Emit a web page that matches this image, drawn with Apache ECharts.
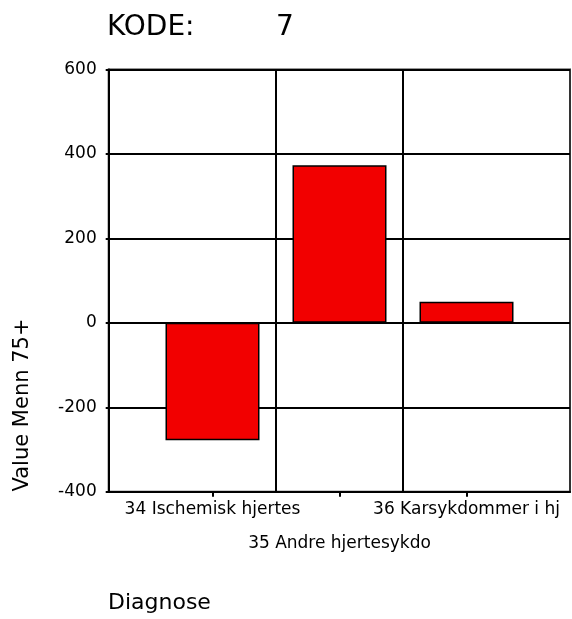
<!DOCTYPE html>
<html>
<head>
<meta charset="utf-8">
<script src="https://cdn.jsdelivr.net/npm/echarts@6/dist/echarts.min.js"></script>
<style>
html,body{margin:0;padding:0;background:#fff;}
#chart{width:572px;height:619px;}
</style>
</head>
<body>
<div id="chart"></div>
<script>
// ---- data ----
var categories = ['34 Ischemisk hjertes', '35 Andre hjertesykdo', '36 Karsykdommer i hj'];
var values = [-278, 373, 50];
var yTicks = [-400, -200, 0, 200, 400, 600];
var titleLabel = 'KODE:';
var titleValue = '7';
var yAxisName = 'Value Menn 75+';
var xAxisName = 'Diagnose';

var FONT = 'DejaVu Sans';
var chart = echarts.init(document.getElementById('chart'), null, {renderer: 'canvas'});

var yMin = yTicks[0], yMax = yTicks[yTicks.length - 1], yStep = yTicks[1] - yTicks[0];

var option = {
  animation: false,
  backgroundColor: '#fff',
  grid: [
    {left: 108.7, right: 2, top: 69.5, bottom: 127.3, show: true, borderColor: '#333', borderWidth: 2, backgroundColor: 'transparent', containLabel: false},
    {left: 149, right: 42, top: 69.5, bottom: 127.3, containLabel: false}
  ],
  xAxis: [
    {gridIndex: 0, type: 'value', min: 0, max: 1,
     axisLine: {show: true, onZero: false, lineStyle: {color: '#000', width: 2}},
     axisTick: {show: false}, axisLabel: {show: false}, splitLine: {show: false}},
    {gridIndex: 1, type: 'category', data: categories, boundaryGap: true,
     axisLine: {show: false, onZero: false},
     axisTick: {show: true, alignWithLabel: true, length: 5, lineStyle: {color: '#000', width: 2}},
     axisLabel: {interval: 0, margin: 1, color: '#000', fontFamily: FONT, fontSize: 17, lineHeight: 34,
       formatter: function (v, i) { return i === 1 ? '\n' + v : v; }},
     splitLine: {show: true, showMinLine: false, showMaxLine: false, lineStyle: {color: '#000', width: 2}}}
  ],
  yAxis: [
    {gridIndex: 0, type: 'value', min: yMin, max: yMax, interval: yStep,
     axisLine: {show: true, lineStyle: {color: '#000', width: 2}},
     axisTick: {show: true, length: 3, lineStyle: {color: '#000', width: 2}},
     axisLabel: {margin: 12, color: '#000', fontFamily: FONT, fontSize: 17},
     splitLine: {show: true, lineStyle: {color: '#000', width: 2}}},
    {gridIndex: 1, type: 'value', min: yMin, max: yMax, interval: yStep, show: false,
     splitLine: {show: false}}
  ],
  series: [{
    type: 'bar', xAxisIndex: 1, yAxisIndex: 1, data: values, barWidth: 94,
    itemStyle: {color: '#f20000', borderColor: '#000', borderWidth: 1.5},
    z: 3
  }],
  graphic: [
    {type: 'text', left: 107, top: 14, style: {text: titleLabel, font: '28px "' + FONT + '"', fill: '#000'}},
    {type: 'text', left: 276, top: 14, style: {text: titleValue, font: '28px "' + FONT + '"', fill: '#000'}},
    {type: 'text', x: 23, y: 405, rotation: Math.PI / 2,
     style: {text: yAxisName, font: '21px "' + FONT + '"', fill: '#000', align: 'center', verticalAlign: 'middle'}},
    {type: 'text', x: 108, y: 603,
     style: {text: xAxisName, font: '22px "' + FONT + '"', fill: '#000', align: 'left', verticalAlign: 'middle'}}
  ]
};
chart.setOption(option);
</script>
</body>
</html>
